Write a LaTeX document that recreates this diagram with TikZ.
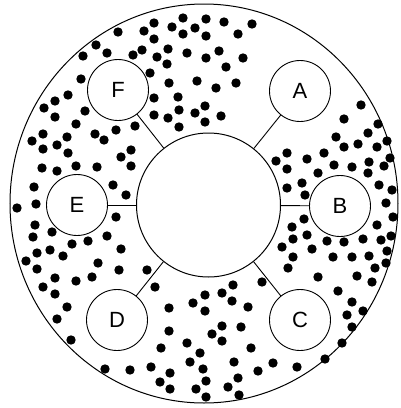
\documentclass[tikz,border=0pt]{standalone}
\usepackage{fontspec}
\setmainfont{Liberation Sans}
\usetikzlibrary{positioning}

\begin{document}
\begin{tikzpicture}[
    x=1pt, y=-1pt,
    hubcircle/.style={draw, circle, line width=1pt, minimum size=144pt, inner sep=0pt},
    portcircle/.style={draw, circle, line width=0.9pt, minimum size=61pt, inner sep=0pt,
                       font=\fontsize{22}{24}\selectfont},
    spoke/.style={line width=0.9pt},
    particle/.style={fill=black},
]
\useasboundingbox (0,0) rectangle (400,408);

% ---- Outer boundary ----
\draw[line width=1pt] (204,203.5) ellipse [x radius=194pt, y radius=199.5pt];

% ---- Particles ----
\foreach \px/\py in {
    118/32, 96/45, 107/53, 83/56, 144/31, 154/23, 172/27, 183/18, 183/34, 195/28,
    154/39, 133/55, 142/50, 157/57, 168/49, 187/53, 167/64, 150/73, 169/83, 197/81,
    81/79, 68/95, 55/101, 44/108, 55/117, 85/111, 154/98, 178/97, 154/115, 168/118,
    179/110, 179/127, 195/113, 76/124, 135/126, 116/130, 95/134, 104/140, 43/134,
    32/141, 67/137, 57/145, 43/149, 68/153, 131/150, 121/157, 131/166, 42/168,
    57/171, 76/166, 97/167, 113/185, 126/195, 34/187, 36/204, 17/208,
    206/19, 206/36, 224/22, 252/24, 238/34, 206/58, 219/51, 243/58, 226/67,
    216/88, 236/83, 205/106, 221/116, 205/122,
    361/105, 344/119, 378/124, 336/137, 368/133, 387/141, 344/147, 358/144, 377/147,
    324/153, 287/153, 276/161, 307/159, 334/165, 352/167, 369/162, 384/166, 390/158,
    287/169, 318/173, 368/173, 302/183, 379/185, 287/188, 305/195, 392/190,
    386/203, 393/217, 304/219, 292/227, 377/225, 307/235, 293/239, 327/241, 344/242,
    363/239, 381/240, 391/236, 282/247, 312/249, 293/257, 333/257, 352/257, 369/256,
    387/251, 288/268, 386/263, 375/268,
    318/277, 357/276, 372/282, 262/282, 233/285, 205/295, 222/293, 232/301, 248/307,
    205/311, 338/291, 352/302, 363/311, 347/315, 352/327, 222/326, 212/334, 241/327,
    222/341, 251/348, 342/343, 200/353, 234/362, 273/363, 325/359, 258/371, 297/367,
    203/369, 238/378, 228/387, 206/381, 239/395, 206/397,
    161/348, 187/343, 190/362, 130/370, 151/367, 170/373, 160/382, 170/389, 196/389,
    116/217, 35/225, 52/232, 33/237, 72/244, 88/241, 107/236, 121/249, 50/250,
    37/253, 63/256, 26/261, 37/269, 98/263, 119/270, 147/270, 55/278, 76/281,
    92/277, 43/287, 55/294, 155/287, 67/307, 57/319, 169/308, 193/303, 169/331,
    71/340, 105/369}
  \fill[particle] (\px,\py) circle (4.7pt);

% ---- Hub and ports ----
\node[hubcircle, fill=white] (hub) at (208.5,205) {};
\node[portcircle, fill=white] (a) at (300,91)  {A};
\node[portcircle, fill=white] (b) at (340,206) {B};
\node[portcircle, fill=white] (c) at (300,320) {C};
\node[portcircle, fill=white] (d) at (117,320) {D};
\node[portcircle, fill=white] (e) at (77,205)  {E};
\node[portcircle, fill=white] (f) at (118,90)  {F};

% ---- Spokes ----
\foreach \port in {a,b,c,d,e,f}
  \draw[spoke] (hub) -- (\port);
\end{tikzpicture}
\end{document}
